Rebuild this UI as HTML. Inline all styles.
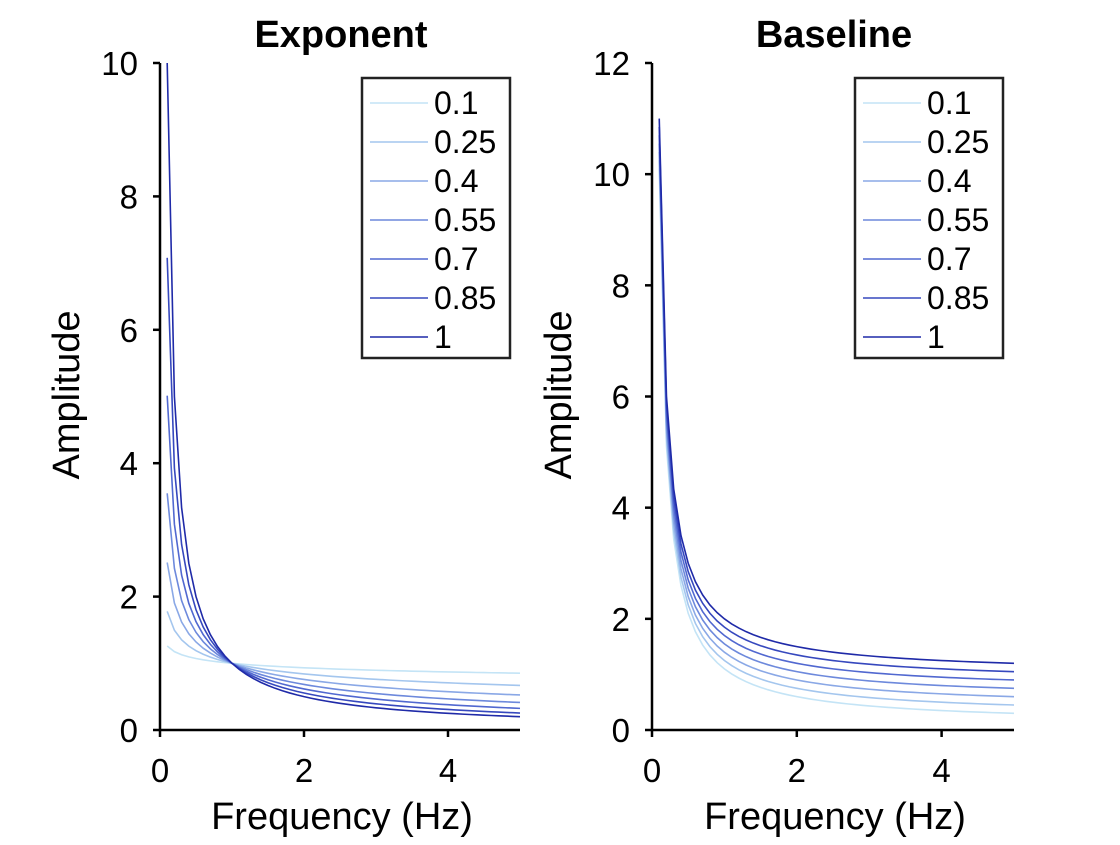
<!DOCTYPE html>
<html><head><meta charset="utf-8">
<style>
body{margin:0;background:#fff;}
svg text{font-family:"Liberation Sans",Arial,sans-serif;fill:#000;}
</style></head>
<body>
<svg id="fig" width="1120" height="840" viewBox="0 0 1120 840" xmlns="http://www.w3.org/2000/svg"></svg>
<script>
const freqs=[0.1,0.2,0.3,0.4,0.5,0.6,0.7,0.8,0.9,1.0,1.1,1.2,1.3,1.4,1.5,1.6,1.7,1.8,1.9,2.0,2.1,2.2,2.3,2.4,2.5,2.6,2.7,2.8,2.9,3.0,3.1,3.2,3.3,3.4,3.5,3.6,3.7,3.8,3.9,4.0,4.1,4.2,4.3,4.4,4.5,4.6,4.7,4.8,4.9,5.0];
const exponents=[0.1,0.25,0.4,0.55,0.7,0.85,1];
const baselines=[0.1,0.25,0.4,0.55,0.7,0.85,1];
const legendLabels=["0.1","0.25","0.4","0.55","0.7","0.85","1"];
const xTicks=[0,2,4];
const yTicksLeft=[0,2,4,6,8,10];
const yTicksRight=[0,2,4,6,8,10,12];
const colors=["#c4e4f6","#a4c6ee","#8aa8e6","#6d89dc","#5168d0","#3648be","#1f2aa8"];
const NS="http://www.w3.org/2000/svg";
const svg=document.getElementById('fig');
function mk(tag,attrs,parent){const e=document.createElementNS(NS,tag);for(const k in attrs)e.setAttribute(k,attrs[k]);(parent||svg).appendChild(e);return e;}
function panel(cfg){
  const g=mk('g',{});
  
  
  const X=v=>cfg.x0+(v-0)/(5-0)*(cfg.x1-cfg.x0);
  const Y=v=>cfg.y0-(v/cfg.ymax)*(cfg.y0-cfg.y1);
  cfg.params.forEach((p,i)=>{
    const pts=freqs.map(f=>X(f).toFixed(2)+','+Y(cfg.fn(f,p)).toFixed(2)).join(' ');
    const pl=mk('polyline',{points:pts,fill:'none',stroke:colors[i],'stroke-width':1.6},g);
    
    
  });
  const ax=mk('path',{d:`M${cfg.x0},${cfg.y1}V${cfg.y0}H${cfg.x1}`,fill:'none',stroke:'#000','stroke-width':2.5},g);
  
  
  xTicks.forEach(t=>{
    mk('line',{x1:X(t),x2:X(t),y1:cfg.y0,y2:cfg.y0+7,stroke:'#000','stroke-width':2.5},g);
    const tx=mk('text',{x:X(t),y:782,'text-anchor':'middle','font-size':33},g);tx.textContent=t;
    
    
  });
  cfg.yTicks.forEach(t=>{
    mk('line',{x1:cfg.x0,x2:cfg.x0-7,y1:Y(t),y2:Y(t),stroke:'#000','stroke-width':2.5},g);
    const tx=mk('text',{x:cfg.x0-22,y:Y(t)+12,'text-anchor':'end','font-size':33},g);tx.textContent=t;
    
    
  });
  const xt=mk('text',{x:(cfg.x0+cfg.x1)/2+2,y:829,'text-anchor':'middle','font-size':38},g);xt.textContent='Frequency (Hz)';
  
  
  const yx=cfg.x0-94, yy=395;
  const yt=mk('text',{x:yx,y:yy+13,'text-anchor':'middle','font-size':38,transform:`rotate(-90 ${yx} ${yy})`},g);yt.textContent='Amplitude';
  
  
  const ti=mk('text',{x:(cfg.x0+cfg.x1)/2+1,y:47,'text-anchor':'middle','font-size':38,'font-weight':'bold'},g);ti.textContent=cfg.title;
  
  
  const lg=mk('g',{},g);
  
  
  mk('rect',{x:cfg.lx,y:78,width:148,height:280,fill:'#fff',stroke:'#222','stroke-width':2.5},lg);
  legendLabels.forEach((l,i)=>{
    const yy2=103+i*39;
    const e=mk('g',{},lg);
    
    
    mk('line',{x1:cfg.lx+8,x2:cfg.lx+66,y1:yy2,y2:yy2,stroke:colors[i],'stroke-width':1.6},e);
    const t=mk('text',{x:cfg.lx+72,y:yy2+11,'font-size':32},e);t.textContent=l;
  });
}
panel({name:'exponent-panel',title:'Exponent',x0:160,x1:520,y0:730,y1:63,ymax:10,yTicks:yTicksLeft,params:exponents,fn:(f,e)=>Math.pow(f,-e),lx:362});
panel({name:'baseline-panel',title:'Baseline',x0:652,x1:1014,y0:730,y1:63,ymax:12,yTicks:yTicksRight,params:baselines,fn:(f,b)=>b+1/f,lx:855});
</script>
</body></html>
